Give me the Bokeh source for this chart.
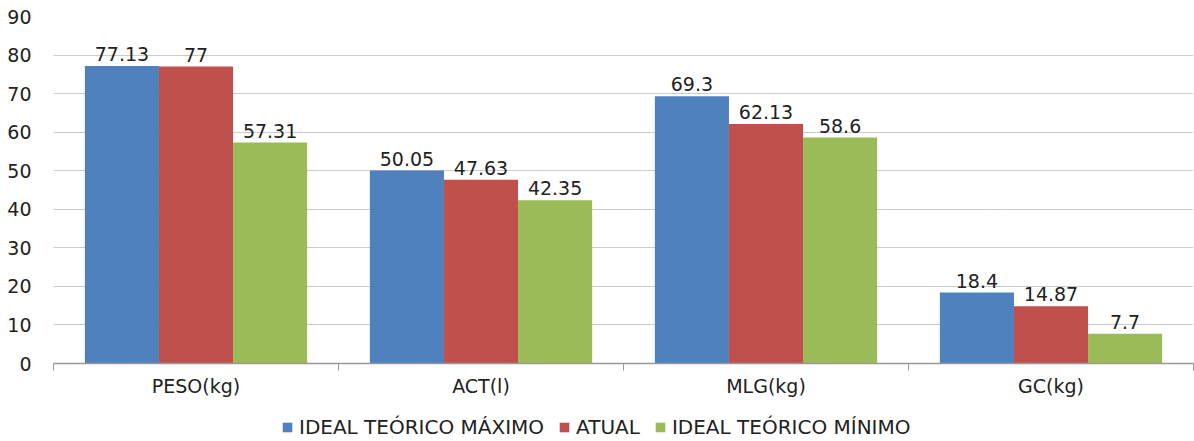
from bokeh.plotting import figure
from bokeh.layouts import column
from bokeh.models import ColumnDataSource, FixedTicker, Legend, LegendItem, LabelSet, Range1d
from bokeh.core.properties import value
from bokeh.embed import file_html
from bokeh.resources import INLINE

categories = ["PESO(kg)", "ACT(l)", "MLG(kg)", "GC(kg)"]
series_names = ["IDEAL TEÓRICO MÁXIMO", "ATUAL", "IDEAL TEÓRICO MÍNIMO"]
ideal_max = [77.13, 50.05, 69.3, 18.4]
atual = [77, 47.63, 62.13, 14.87]
ideal_min = [57.31, 42.35, 58.6, 7.7]
colors = ["#4F81BD", "#C0504D", "#9BBB59"]
y_ticks = [0, 10, 20, 30, 40, 50, 60, 70, 80, 90]

FONT = "DejaVu Sans"
TXT = "#222222"
p = figure(width=1194, height=410, output_backend="svg", toolbar_location=None,
           x_range=(0, len(categories)), y_range=(0, 90),
           min_border_left=53, min_border_right=1, min_border_top=16, min_border_bottom=47)
p.outline_line_color = None

bw = 0.26
offsets = [-bw, 0, bw]
for vals, col, off in zip([ideal_max, atual, ideal_min], colors, offsets):
    xs = [i + 0.5 + off for i in range(len(categories))]
    src = ColumnDataSource(dict(x=xs, top=vals, lab=[f"{v:g}" for v in vals]))
    p.vbar(x="x", top="top", width=bw, source=src, fill_color=col, line_color=None)
    p.add_layout(LabelSet(x="x", y="top", text="lab", source=src, text_align="center",
                          text_baseline="bottom", y_offset=5, text_font=value(FONT),
                          text_font_size="19px", text_color=TXT))

p.xaxis.ticker = FixedTicker(ticks=[i + 0.5 for i in range(len(categories))],
                             minor_ticks=list(range(len(categories) + 1)))
p.xaxis.major_label_overrides = {i + 0.5: c for i, c in enumerate(categories)}
p.xaxis.major_tick_line_color = None
p.xaxis.minor_tick_out = 7
p.xaxis.minor_tick_in = 0
p.xaxis.minor_tick_line_color = "#999999"
p.xaxis.axis_line_color = "#999999"
p.xaxis.axis_line_width = 1.5
p.xaxis.major_label_text_font = FONT
p.xaxis.major_label_text_font_size = "19px"
p.xaxis.major_label_text_color = TXT
p.xaxis.major_label_standoff = 4

p.yaxis.ticker = FixedTicker(ticks=y_ticks)
p.yaxis.axis_line_color = None
p.yaxis.major_tick_line_color = None
p.yaxis.minor_tick_line_color = None
p.yaxis.major_label_text_font = FONT
p.yaxis.major_label_text_font_size = "19px"
p.yaxis.major_label_text_color = TXT
p.yaxis.major_label_standoff = 16

p.xgrid.grid_line_color = None
p.ygrid.grid_line_color = "#999999"
p.ygrid.grid_line_dash = "1 1"
p.ygrid.grid_line_width = 1

# legend strip below the chart (zero-size swatch renderers, only for the legend)
lf = figure(width=1194, height=31, output_backend="svg", toolbar_location=None,
            x_range=Range1d(0, 1), y_range=Range1d(0, 1),
            min_border_left=0, min_border_right=0, min_border_top=0, min_border_bottom=0)
lf.axis.visible = False
lf.grid.visible = False
lf.outline_line_color = None
items = []
for name, col in zip(series_names, colors):
    r = lf.vbar(x=[0], top=[0], bottom=[0], width=0, fill_color=col, line_color=None)
    items.append(LegendItem(label=name, renderers=[r]))
legend = Legend(items=items, orientation="horizontal", location=(228, 2),
                label_text_font=FONT, label_text_font_size="20px", label_text_color=TXT,
                glyph_width=12, glyph_height=12, spacing=14, label_standoff=6,
                padding=0, margin=0, border_line_color=None, background_fill_alpha=0)
lf.add_layout(legend, "center")

layout = column(p, lf, spacing=0)
open("out.html", "w").write(file_html(layout, INLINE))
